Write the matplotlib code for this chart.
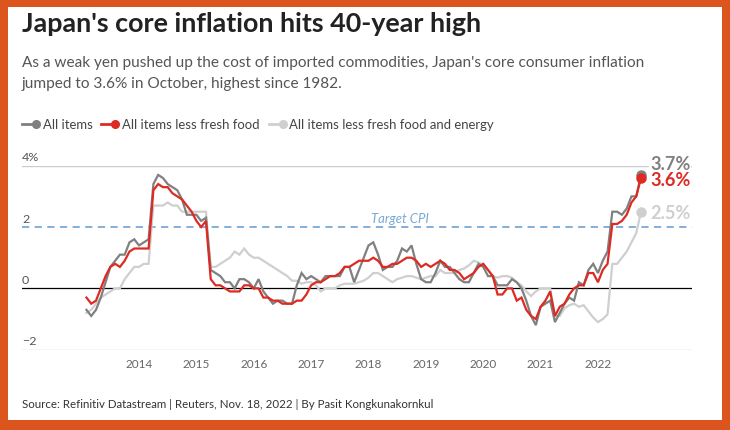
import matplotlib
matplotlib.use("Agg")
import matplotlib.pyplot as plt
import numpy as np
from matplotlib.patches import Rectangle
from matplotlib.lines import Line2D
import matplotlib.transforms as mtransforms

plt.rcParams['font.family'] = ['Lato', 'DejaVu Sans']

# ---------------- data (monthly y/y %, Feb 2013 - Oct 2022) ----------------
start_year = 2013
start_month = 2

all_items = [
    -0.7, -0.9, -0.7, -0.3, 0.2, 0.7, 0.9, 1.1, 1.1, 1.5, 1.6,
    1.4, 1.5, 1.6, 3.4, 3.7, 3.6, 3.4, 3.3, 3.2, 2.9, 2.4, 2.4,
    2.4, 2.2, 2.3, 0.6, 0.5, 0.4, 0.2, 0.2, 0.0, 0.3, 0.3, 0.2,
    0.0, 0.3, -0.1, -0.3, -0.5, -0.4, -0.4, -0.5, -0.5, 0.1, 0.5, 0.3,
    0.4, 0.3, 0.2, 0.4, 0.4, 0.4, 0.4, 0.7, 0.7, 0.2, 0.6, 1.0,
    1.4, 1.5, 1.1, 0.6, 0.7, 0.7, 0.9, 1.3, 1.2, 1.4, 0.8, 0.3,
    0.2, 0.2, 0.5, 0.9, 0.7, 0.7, 0.5, 0.3, 0.2, 0.2, 0.5, 0.8,
    0.7, 0.4, 0.4, 0.1, 0.1, 0.1, 0.3, 0.2, 0.0, -0.4, -0.9, -1.2,
    -0.6, -0.5, -0.4, -1.1, -0.8, -0.5, -0.3, -0.4, 0.2, 0.1, 0.6, 0.8,
    0.5, 0.9, 1.2, 2.5, 2.5, 2.4, 2.6, 3.0, 3.0, 3.7,
]
less_fresh_food = [
    -0.3, -0.5, -0.4, 0.0, 0.4, 0.7, 0.8, 0.7, 0.9, 1.2, 1.3,
    1.3, 1.3, 1.3, 3.2, 3.4, 3.3, 3.3, 3.1, 3.0, 2.9, 2.7, 2.5,
    2.2, 2.0, 2.2, 0.3, 0.1, 0.1, 0.0, -0.1, -0.1, -0.1, 0.1, 0.1,
    0.0, 0.0, -0.3, -0.3, -0.4, -0.4, -0.5, -0.5, -0.5, -0.4, -0.4, -0.2,
    0.1, 0.2, 0.2, 0.3, 0.4, 0.4, 0.5, 0.7, 0.7, 0.8, 0.9, 0.9,
    0.9, 1.0, 0.9, 0.7, 0.7, 0.8, 0.8, 0.9, 1.0, 1.0, 0.9, 0.7,
    0.8, 0.7, 0.8, 0.9, 0.8, 0.6, 0.6, 0.5, 0.3, 0.4, 0.5, 0.7,
    0.8, 0.6, 0.4, -0.2, -0.2, 0.0, 0.0, -0.4, -0.3, -0.7, -0.9, -1.0,
    -0.6, -0.4, -0.1, -0.9, -0.6, -0.5, -0.2, 0.0, 0.1, 0.1, 0.5, 0.5,
    0.2, 0.6, 0.8, 2.1, 2.1, 2.2, 2.4, 2.8, 3.0, 3.6,
]
less_fresh_food_energy = [
    -0.8, -0.7, -0.5, -0.3, -0.2, -0.1, 0.0, 0.0, 0.3, 0.5, 0.7,
    0.7, 0.8, 0.8, 2.7, 2.7, 2.7, 2.8, 2.7, 2.7, 2.5, 2.5, 2.5,
    2.5, 2.5, 2.5, 0.7, 0.7, 0.8, 0.9, 1.0, 1.2, 1.1, 1.3, 1.1,
    1.0, 1.0, 0.9, 0.8, 0.7, 0.6, 0.5, 0.4, 0.25, 0.25, 0.15, 0.2,
    0.2, 0.1, -0.1, 0.0, 0.0, 0.0, 0.1, 0.15, 0.15, 0.15, 0.2, 0.25,
    0.35, 0.5, 0.5, 0.4, 0.3, 0.2, 0.3, 0.35, 0.4, 0.4, 0.35, 0.3,
    0.35, 0.4, 0.4, 0.6, 0.5, 0.5, 0.5, 0.6, 0.65, 0.75, 0.9, 0.85,
    0.75, 0.6, 0.4, 0.35, 0.4, 0.4, 0.35, 0.2, 0.1, -0.1, -0.25, -0.1,
    0.0, 0.0, 0.0, -0.9, -0.9, -0.65, -0.55, -0.5, -0.6, -0.55, -0.75, -0.95,
    -1.1, -1.0, -0.85, 0.8, 0.8, 1.0, 1.2, 1.5, 1.8, 2.5,
]
series_names = ["All items", "All items less fresh food",
                "All items less fresh food and energy"]
year_ticks = [2014, 2015, 2016, 2017, 2018, 2019, 2020, 2021, 2022]
y_ticks = [4, 2, 0, -2]
y_tick_labels = ["4%", "2", "0", "\u22122"]
target_cpi = 2

title = "Japan's core inflation hits 40-year high"
subtitle = ["As a weak yen pushed up the cost of imported commodities, Japan's core consumer inflation",
            "jumped to 3.6% in October, highest since 1982."]
source = "Source: Refinitiv Datastream | Reuters, Nov. 18, 2022 | By Pasit Kongkunakornkul"

# ---------------- styles ----------------
C_GREY = "#808080"
C_RED = "#DD2A22"
C_LIGHT = "#CFCFCF"
C_BLUE = "#7AA9D6"
C_ORANGE = "#DD551E"

W, H = 730, 431
fig = plt.figure(figsize=(W / 100, H / 100), dpi=100)
fig.patch.set_facecolor(C_ORANGE)


def fx(px):
    return px / W


def fy(py):
    return 1 - py / H


fig.add_artist(Rectangle((fx(8), fy(421)), fx(722) - fx(8), fy(8) - fy(421),
                         transform=fig.transFigure, facecolor="white",
                         edgecolor="none", zorder=-10))

fig.canvas.draw()
renderer = fig.canvas.get_renderer()


def fit(t, target_w):
    w = t.get_window_extent(renderer).width
    t.set_fontsize(t.get_fontsize() * target_w / w)


# title & subtitle
t = fig.text(fx(22), fy(32), title, fontsize=16, fontweight="bold",
             color="#222222", ha="left", va="baseline")
fit(t, 462)
s1 = fig.text(fx(22), fy(67), subtitle[0], fontsize=10,
              color="#555555", ha="left", va="baseline")
fit(s1, 623)
s2 = fig.text(fx(22), fy(88), subtitle[1], fontsize=s1.get_fontsize(),
              color="#555555", ha="left", va="baseline")

# legend (manual)
leg_colors = [C_GREY, C_RED, C_LIGHT]
leg_marker_x = [(22, 36), (101, 115), (269, 283)]
leg_text_x = [43, 122, 289]
leg_texts = []
for i, name in enumerate(series_names):
    x0, x1 = leg_marker_x[i]
    fig.add_artist(Line2D([fx(x0), fx(x1)], [fy(125), fy(125)],
                          transform=fig.transFigure, color=leg_colors[i], lw=2))
    fig.add_artist(Line2D([fx(x1)], [fy(125)], transform=fig.transFigure,
                          color=leg_colors[i], marker="o", markersize=5.5, lw=0))
    lt = fig.text(fx(leg_text_x[i]), fy(125), name, fontsize=10,
                  color="#444444", ha="left", va="center")
    leg_texts.append(lt)
fit(leg_texts[2], 205)
leg_fs = leg_texts[2].get_fontsize()
for lt in leg_texts:
    lt.set_fontsize(leg_fs)

# source
src = fig.text(fx(22), fy(405), source, fontsize=9, color="#333333",
               ha="left", va="center")
fit(src, 414)

# ---------------- axes ----------------
ax = fig.add_axes([fx(22), fy(350.7), fx(691.5) - fx(22), fy(166.7) - fy(350.7)])
ax.set_facecolor("none")
ax.set_xlim(2011.96, 2023.63)
ax.set_ylim(-2, 4)
ax.axis("off")

n = len(all_items)
xs = np.array([start_year + (start_month - 1 + i) / 12 for i in range(n)])

for v in y_ticks:
    if v == 0:
        ax.axhline(v, color="black", lw=0.9, zorder=2)
    elif v == target_cpi:
        ax.axhline(v, color=C_BLUE, lw=1.3, ls=(0, (4, 3)), zorder=1)
    else:
        ax.axhline(v, color="#CCCCCC", lw=1.0, zorder=1)

blend = mtransforms.blended_transform_factory(ax.transAxes, ax.transData)
for v, lab in zip(y_ticks, y_tick_labels):
    ax.annotate(lab, (0, v), xycoords=blend, xytext=(0, 9),
                textcoords="offset pixels", ha="left", va="center",
                fontsize=leg_fs * 0.95, color="#555555")

for yr in year_ticks:
    ax.annotate(str(yr), (yr, -2), xycoords="data", xytext=(0, -14),
                textcoords="offset pixels", ha="center", va="center",
                fontsize=leg_fs * 0.9, color="#666666")

ax.annotate("Target CPI", (2018.55, target_cpi), xycoords="data",
            xytext=(0, 9), textcoords="offset pixels", ha="center",
            va="center", fontsize=leg_fs, fontstyle="italic", color=C_BLUE)

series = [less_fresh_food_energy, all_items, less_fresh_food]
colors = [C_LIGHT, C_GREY, C_RED]
for ys, c, z in zip(series, colors, [3, 4, 5]):
    ax.plot(xs, ys, color=c, lw=1.6, zorder=z, clip_on=False,
            solid_joinstyle="miter")
    ax.plot(xs[-1], ys[-1], "o", color=c, markersize=6.5, zorder=z + 0.5,
            clip_on=False)

label_offsets = {0: -1, 1: 11, 2: -2}
end_labels = []
for idx, (ys, c) in enumerate(zip(series, colors)):
    a = ax.annotate(f"{ys[-1]:.1f}%", (xs[-1], ys[-1]), xytext=(9, label_offsets[idx]),
                    textcoords="offset pixels", ha="left", va="center",
                    fontsize=12, fontweight="bold", color=c, zorder=6,
                    bbox=dict(boxstyle="square,pad=0.05", fc="white", ec="none"))
    end_labels.append(a)
a0 = end_labels[1]
a0.set_bbox(None)
fit(a0, 40)
a0.set_bbox(dict(boxstyle="square,pad=0.05", fc="white", ec="none"))
for a in end_labels:
    a.set_fontsize(a0.get_fontsize())

fig.savefig("out.png", dpi=100, facecolor=fig.get_facecolor())
